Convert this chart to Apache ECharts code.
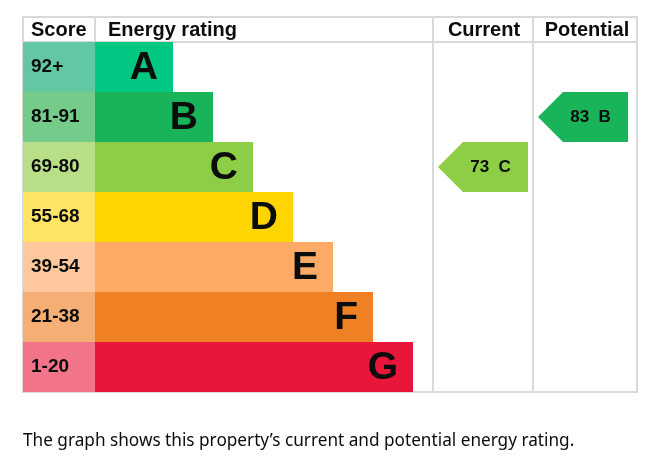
<!DOCTYPE html>
<html><head><meta charset="utf-8">
<script src="https://cdn.jsdelivr.net/npm/echarts@6/dist/echarts.min.js"></script>
<style>html,body{margin:0;padding:0;background:#fff}#c{width:670px;height:474px}</style>
</head><body><div id="c"></div>
<script>
// ---- data ----
const bands = ['A', 'B', 'C', 'D', 'E', 'F', 'G'];
const scoreRanges = ['92+', '81-91', '69-80', '55-68', '39-54', '21-38', '1-20'];
const bandMinScore = [92, 81, 69, 55, 39, 21, 1];
const barLengths = [78, 118, 158, 198, 238, 278, 318];
const barColors = ['#00c781', '#19b459', '#8dce46', '#ffd500', '#fcaa65', '#ef8023', '#e9153b'];
const scoreColors = ['#64c7a4', '#74cb8a', '#b9de88', '#ffe466', '#fec79d', '#f5ae74', '#f27489'];
const headers = ['Score', 'Energy rating', 'Current', 'Potential'];
const currentScore = 73;
const potentialScore = 83;
const caption = 'The graph shows this property\u2019s current and potential energy rating.';

// ---- layout ----
const GRID = { left: 23, top: 42, width: 614, height: 350 };
const HEADER_H = 25;
const COLS = [0, 72, 410, 510, 614]; // column boundaries in axis units
const ARROW_W = 90;
const LINE = '#d9d9d9';
const INK = '#0b0c0c';
const FONT = '"Liberation Sans", Arial, sans-serif';

function bandOf(score) {
  for (let i = 0; i < bandMinScore.length; i++) if (score >= bandMinScore[i]) return i;
  return bandMinScore.length - 1;
}

const chart = echarts.init(document.getElementById('c'), null, { renderer: 'canvas' });

function renderBand(params, api) {
  const i = api.value(0);
  const len = api.value(1);
  const h = api.size([0, 1])[1];
  const pL = api.coord([COLS[0], i]);
  const pS = api.coord([COLS[1], i]);
  const pE = api.coord([COLS[1] + len, i]);
  const cy = pL[1];
  return {
    type: 'group',
    children: [
      { type: 'rect', shape: { x: pL[0], y: cy - h / 2, width: pS[0] - pL[0], height: h }, style: { fill: scoreColors[i] } },
      { type: 'rect', shape: { x: pS[0], y: cy - h / 2, width: pE[0] - pS[0], height: h }, style: { fill: barColors[i] } },
      { type: 'text', x: pL[0] + 8, y: cy, style: { text: scoreRanges[i], font: 'bold 19px ' + FONT, fill: INK, verticalAlign: 'middle', align: 'left' } },
      { type: 'text', x: pE[0] - 15, y: cy + 1, style: { text: bands[i], font: 'bold 39px ' + FONT, fill: INK, verticalAlign: 'middle', align: 'right' } }
    ]
  };
}

function renderArrow(params, api) {
  const c0 = api.value(0), b = api.value(1), score = api.value(2);
  const h = api.size([0, 1])[1];
  const p0 = api.coord([c0, b]);
  const cy = p0[1];
  const x0 = p0[0] + 5, x1 = x0 + ARROW_W, xb = x0 + h / 2;
  return {
    type: 'group',
    children: [
      { type: 'polygon', shape: { points: [[x0, cy], [xb, cy - h / 2], [x1, cy - h / 2], [x1, cy + h / 2], [xb, cy + h / 2]] }, style: { fill: barColors[b] } },
      { type: 'text', x: (xb + x1) / 2 - 5, y: cy, style: { text: score + '  ' + bands[b], font: 'bold 17px ' + FONT, fill: INK, verticalAlign: 'middle', align: 'center' } }
    ]
  };
}

// frame lines and header texts
const gx = v => GRID.left + v * GRID.width / COLS[COLS.length - 1];
const frameTop = GRID.top - HEADER_H, frameBottom = GRID.top + GRID.height;
const graphics = [];
const hline = y => graphics.push({ type: 'line', shape: { x1: gx(0) - 1, y1: y, x2: gx(COLS[4]) + 1, y2: y }, style: { stroke: LINE, lineWidth: 2 }, z: -1 });
const vline = x => graphics.push({ type: 'line', shape: { x1: x, y1: frameTop - 1, x2: x, y2: frameBottom + 1 }, style: { stroke: LINE, lineWidth: 2 }, z: -1 });
hline(frameTop); hline(GRID.top); hline(frameBottom);
vline(gx(0)); vline(gx(COLS[1])); vline(gx(COLS[2])); vline(gx(COLS[3])); vline(gx(COLS[4]));
const hy = frameTop + HEADER_H / 2 + 1;
const hfont = 'bold 20px ' + FONT;
graphics.push({ type: 'text', x: gx(0) + 8, y: hy, style: { text: headers[0], font: hfont, fill: INK, verticalAlign: 'middle' }, z: 11 });
graphics.push({ type: 'text', x: gx(COLS[1]) + 13, y: hy, style: { text: headers[1], font: hfont, fill: INK, verticalAlign: 'middle' }, z: 11 });
graphics.push({ type: 'text', x: (gx(COLS[2]) + gx(COLS[3])) / 2 + 1, y: hy, style: { text: headers[2], font: hfont, fill: INK, verticalAlign: 'middle', align: 'center' }, z: 11 });
graphics.push({ type: 'text', x: (gx(COLS[3]) + gx(COLS[4])) / 2 + 2, y: hy, style: { text: headers[3], font: hfont, fill: INK, verticalAlign: 'middle', align: 'center' }, z: 11 });
graphics.push({ type: 'text', x: 23, y: 441, style: { text: caption, font: '17.2px "Noto Sans", sans-serif', fill: INK, verticalAlign: 'middle' }, z: 11 });

chart.setOption({
  animation: false,
  grid: { left: GRID.left, top: GRID.top, width: GRID.width, height: GRID.height },
  xAxis: { type: 'value', min: 0, max: COLS[4], show: false },
  yAxis: { type: 'category', data: bands, inverse: true, show: false },
  graphic: graphics,
  series: [
    { type: 'custom', z: 5, renderItem: renderBand, data: bands.map((b, i) => [i, barLengths[i]]) },
    { type: 'custom', z: 5, renderItem: renderArrow, data: [
      [COLS[2], bandOf(currentScore), currentScore],
      [COLS[3], bandOf(potentialScore), potentialScore]
    ] }
  ]
});
</script></body></html>
